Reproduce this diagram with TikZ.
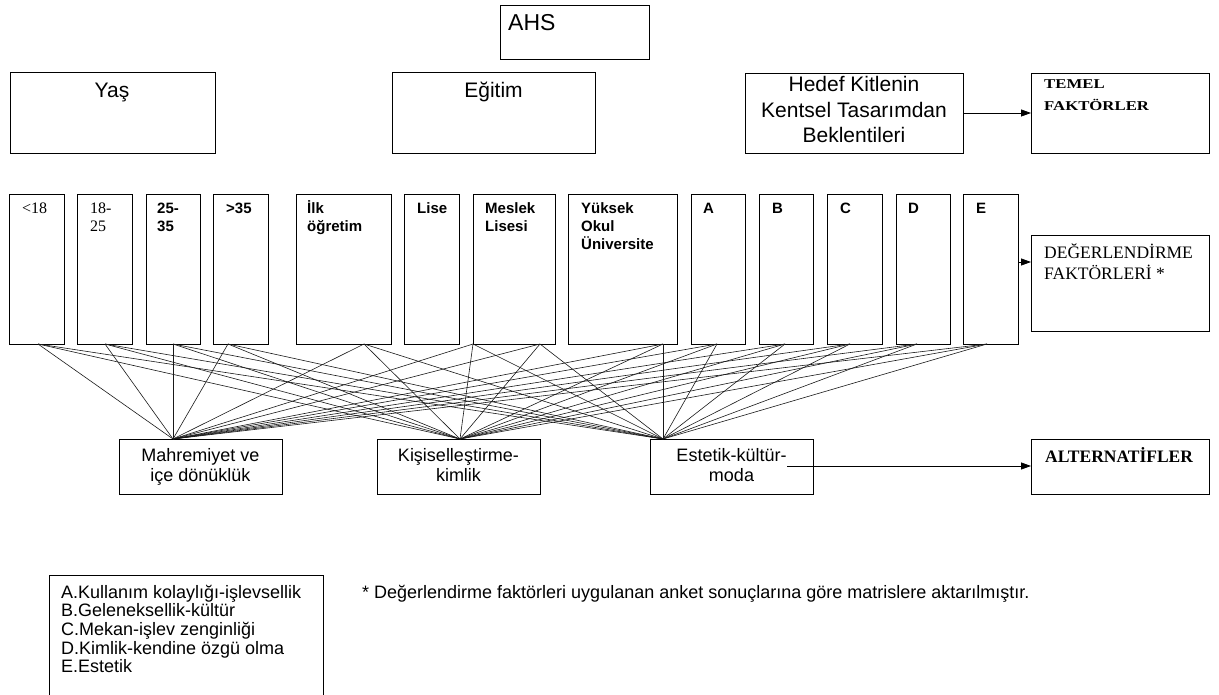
\documentclass[tikz,border=0pt]{standalone}
\usepackage{fontspec}
\setmainfont{Liberation Sans}
\newfontfamily\tms{Liberation Serif}
\newfontfamily\tmsw[FakeStretch=1.24]{Liberation Serif}
\usetikzlibrary{fit,arrows.meta}
\newcommand\mkbox[5]{\node[box, fit={(#2,#3) (#4,#5)}] (#1) {};}
\newcommand\tlft[1]{\begin{tabular}[t]{@{}l@{}}#1\end{tabular}}
\newcommand\tctr[1]{\begin{tabular}[t]{@{}c@{}}#1\end{tabular}}
\begin{document}
\begin{tikzpicture}[x=1pt,y=-1pt,
  box/.style={draw, line width=0.8pt, inner sep=0pt, outer sep=0pt},
  conn/.style={line width=0.6pt, draw=black!90},
  arr/.style={line width=0.8pt, -{Triangle[length=10pt,width=7pt]}},
  lbl/.style={inner sep=0pt, anchor=base west},
  ctr/.style={inner sep=0pt, anchor=base},
  sm/.style={lbl, font=\fontsize{15}{17.5}\selectfont\bfseries},
  smt/.style={lbl, font=\fontsize{16}{18}\selectfont\tms},
  big/.style={font=\fontsize{21}{25.5}\selectfont},
  mid/.style={ctr, font=\fontsize{18}{20}\selectfont},
  leg/.style={lbl, font=\fontsize{18}{18.7}\selectfont}]
\useasboundingbox (0,0) rectangle (1219,695);

% top row
\mkbox{ahs}{500}{5}{649}{59}
\node[lbl, font=\fontsize{23}{26}\selectfont] (ahst) at (508,31) {AHS};
\mkbox{yas}{10}{72}{215}{153}
\node[big, ctr] (yast) at (112,98) {Yaş};
\mkbox{egt}{392}{72}{595}{153}
\node[big, ctr] (egtt) at (493.5,98) {Eğitim};
\mkbox{hed}{745}{73}{963}{153}
\node[big, ctr] (hedt) at (854,92) {\tctr{Hedef Kitlenin\\Kentsel Tasarımdan\\Beklentileri}};
\mkbox{tem}{1031}{73}{1209}{153}
\node[lbl, font=\fontsize{13.5}{22}\selectfont\tmsw\bfseries] (temt) at (1044,89) {\tlft{TEMEL\\FAKTÖRLER}};
\draw[arr] (hed.east) -- (tem.west);

% factor boxes
\mkbox{f1}{9}{194}{64}{344}
\mkbox{f2}{77}{194}{132}{344}
\mkbox{f3}{146}{194}{200}{344}
\mkbox{f4}{213}{194}{268}{344}
\mkbox{f5}{296}{194}{391}{344}
\mkbox{f6}{404}{194}{459}{344}
\mkbox{f7}{473}{194}{555}{344}
\mkbox{f8}{568}{194}{677}{344}
\mkbox{f9}{691}{194}{745}{344}
\mkbox{f10}{759}{194}{813}{344}
\mkbox{f11}{827}{194}{882}{344}
\mkbox{f12}{896}{194}{950}{344}
\mkbox{f13}{963}{194}{1018}{344}
\node[smt] (t1) at (22,214) {<18};
\node[smt] (t2) at (90,214) {\tlft{18-\\25}};
\node[sm] (t3) at (157,214) {\tlft{25-\\35}};
\node[sm] (t4) at (226,214) {>35};
\node[sm] (t5) at (307,214) {\tlft{İlk\\öğretim}};
\node[sm] (t6) at (417,214) {Lise};
\node[sm] (t7) at (485,214) {\tlft{Meslek\\Lisesi}};
\node[sm] (t8) at (581,214) {\tlft{Yüksek\\Okul\\Üniversite}};
\node[sm] (t9) at (703,214) {A};
\node[sm] (t10) at (772,214) {B};
\node[sm] (t11) at (840,214) {C};
\node[sm] (t12) at (908,214) {D};
\node[sm] (t13) at (976,214) {E};

\mkbox{deg}{1031}{235}{1209}{331}
\node[lbl, font=\fontsize{17.5}{19.5}\selectfont\tms] (degt) at (1044,259) {\tlft{DEĞERLENDİRME\\FAKTÖRLERİ *}};
\coordinate (es) at (1018,262);
\draw[arr] (es) -- (deg.west |- es);

% alternatives
\mkbox{m1}{119}{439}{282}{494}
\mkbox{m2}{377}{439}{540}{494}
\mkbox{m3}{650}{439}{813}{494}
\node[mid] (m1t) at (m1.center |- 0,461) {\tctr{Mahremiyet ve\\içe dönüklük}};
\node[mid] (m2t) at (m2.center |- 0,461) {\tctr{Kişiselleştirme-\\kimlik}};
\node[mid] (m3t) at (m3.center |- 0,461) {\tctr{Estetik-kültür-\\moda}};
\mkbox{alt}{1031}{439}{1209}{494}
\node[lbl, font=\fontsize{17.5}{20}\selectfont\tms\bfseries] (altt) at (1045,462) {ALTERNATİFLER};
\coordinate (ms) at (787,466);
\draw[arr] (ms) -- (alt.west |- ms);

% attach points
\coordinate (a1) at (38,344);
\coordinate (a2) at (105,344);
\coordinate (a3) at (173,344);
\coordinate (a4) at (228,344);
\coordinate (a5) at (364,344);
\coordinate (a6) at (473,344);
\coordinate (a7) at (540,344);
\coordinate (a8) at (663,344);
\coordinate (a9) at (717,344);
\coordinate (a10) at (785,344);
\coordinate (a11) at (850,344);
\coordinate (a12) at (917,344);
\coordinate (a13) at (987,344);
\coordinate (b1) at (173,439);
\coordinate (b2) at (460,439);
\coordinate (b3) at (663,439);
\foreach \s in {1,...,13}
  \foreach \t in {1,2,3}
    \draw[conn] (a\s) -- (b\t);

% legend
\mkbox{lg}{49}{575}{323}{705}
\node[leg] (lgt) at (61,598) {\tlft{A.Kullanım kolaylığı-işlevsellik\\B.Geleneksellik-kültür\\C.Mekan-işlev zenginliği\\D.Kimlik-kendine özgü olma\\E.Estetik}};
\node[leg] (fn) at (362,598) {* Değerlendirme faktörleri uygulanan anket sonuçlarına göre matrislere aktarılmıştır.};
\end{tikzpicture}
\end{document}
